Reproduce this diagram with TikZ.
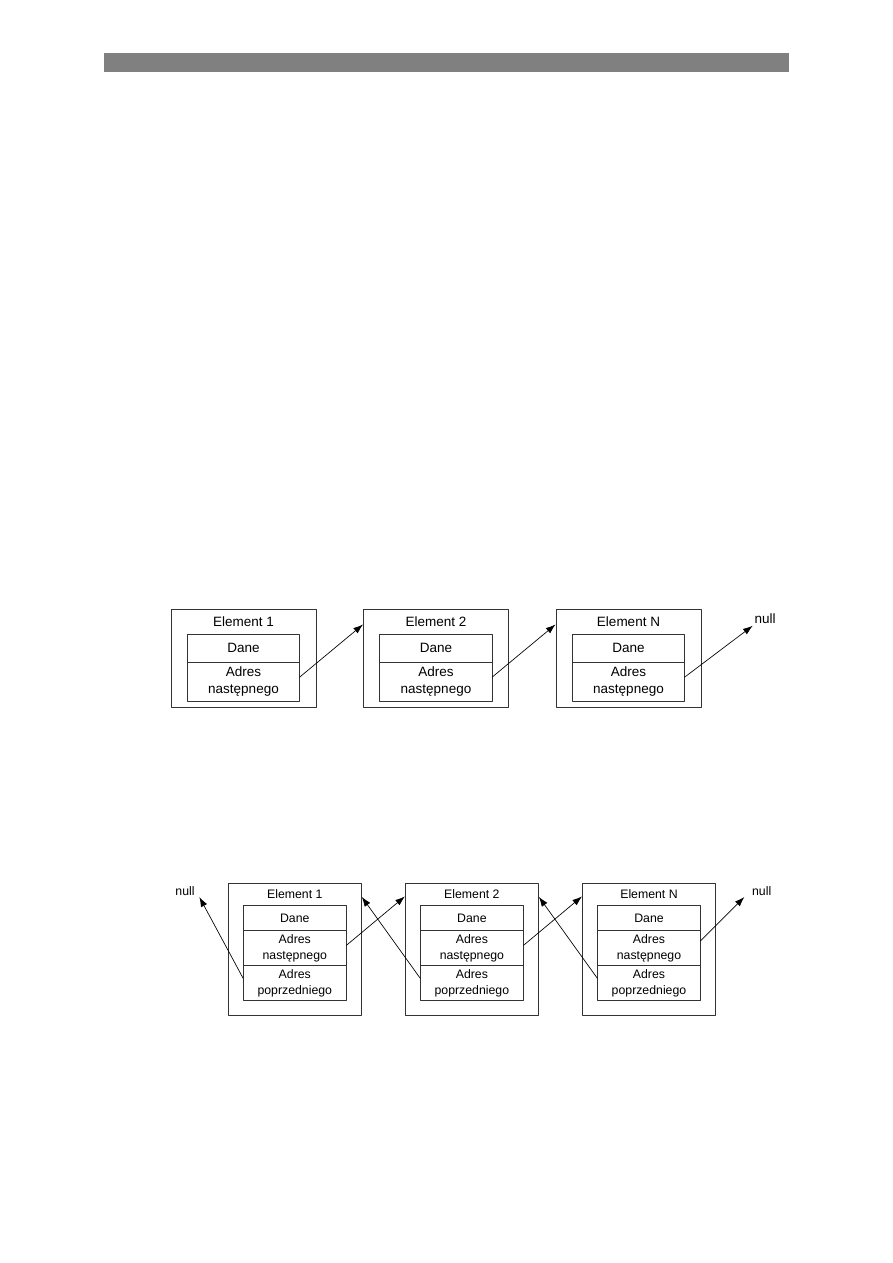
\documentclass[tikz,border=0pt]{standalone}
\usepackage{fontspec}
\setmainfont{Liberation Sans}
\usetikzlibrary{arrows.meta,positioning}
\tikzset{
  elbox/.style={draw=black!80,line width=.6pt,inner sep=0pt},
  cell/.style={draw=black!80,line width=.6pt,inner sep=0pt,outer sep=0pt,align=center,anchor=north},
  ptr/.style={-{Latex[length=6.5pt,width=4.5pt]},line width=.45pt},
}
\begin{document}
\begin{tikzpicture}[x=.6667pt,y=-.6667pt,line join=round,line cap=round]
\useasboundingbox (0,0) rectangle (893,1263);
\fill[black!50] (104,53.3) rectangle (789,72.3);
% lista jednokierunkowa
\begin{scope}[font=\fontsize{9}{11.3}\selectfont]
\foreach \i/\x/\t in {1/243.5/1,2/436/2,3/628.5/N}{
  \node[elbox,minimum width=96.7pt,minimum height=65.5pt] (s\i) at (\x,658.3) {};
  \node (s\i-t) at (\x,621.7) {Element \t};
  \node[cell,minimum width=75pt,minimum height=18.7pt] (s\i-d) at (\x,634) {Dane};
  \node[cell,minimum width=75pt,minimum height=26pt] (s\i-n) at (s\i-d.south) {Adres\\następnego};
}
\node[inner sep=1pt] (snull) at (765,619) {null};
\end{scope}
\draw[ptr] ([yshift=3pt]s1-n.east) -- ([yshift=-10.5pt]s2.north west);
\draw[ptr] ([yshift=3pt]s2-n.east) -- ([yshift=-10.5pt]s3.north west);
\draw[ptr] ([yshift=3pt]s3-n.east) -- (snull.south west);
% lista dwukierunkowa
\begin{scope}[font=\fontsize{8.2}{10.7}\selectfont]
\foreach \i/\x/\t in {1/294.8/1,2/471.9/2,3/649/N}{
  \node[elbox,minimum width=88.7pt,minimum height=87.8pt] (d\i) at (\x,949.2) {};
  \node (d\i-t) at (\x,894) {Element \t};
  \node[cell,minimum width=68.9pt,minimum height=17pt] (d\i-d) at (\x,905.3) {Dane};
  \node[cell,minimum width=68.9pt,minimum height=23.3pt] (d\i-n) at (d\i-d.south) {Adres\\następnego};
  \node[cell,minimum width=68.9pt,minimum height=23.3pt] (d\i-p) at (d\i-n.south) {Adres\\poprzedniego};
}
\node[inner sep=1pt] (dnull1) at (185,890.7) {null};
\node[inner sep=1pt] (dnull2) at (761.7,890.7) {null};
\end{scope}
\draw[ptr] ([yshift=3.3pt]d1-p.west) -- ([xshift=2pt]dnull1.south east);
\draw[ptr] ([yshift=2pt]d1-n.east) -- ([yshift=-9pt]d2.north west);
\draw[ptr] ([yshift=3.3pt]d2-p.west) -- ([yshift=-9.3pt]d1.north east);
\draw[ptr] ([yshift=2pt]d2-n.east) -- ([yshift=-9pt]d3.north west);
\draw[ptr] ([yshift=3.3pt]d3-p.west) -- ([yshift=-9.3pt]d2.north east);
\draw[ptr] ([yshift=5pt]d3-n.east) -- ([xshift=-4pt]dnull2.south west);
\end{tikzpicture}
\end{document}
